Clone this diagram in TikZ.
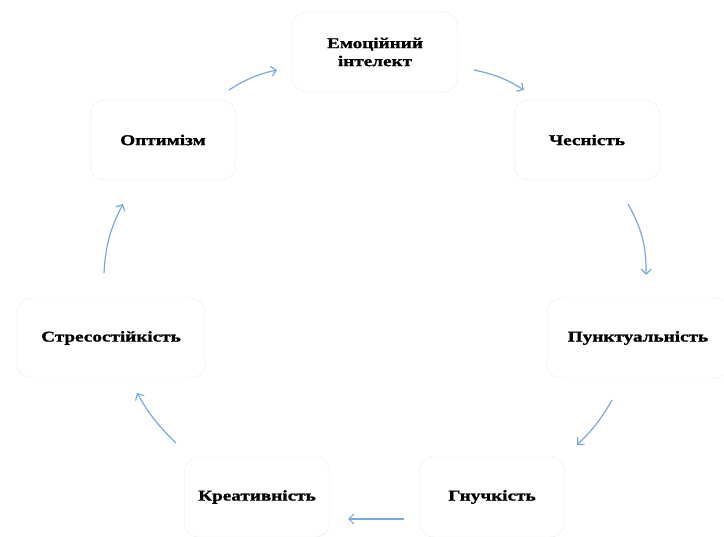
\documentclass[tikz,border=0pt]{standalone}
\usepackage{fontspec}
\setmainfont{Liberation Serif}
\newfontfamily\qualfont[FakeStretch=1.28, FakeBold=1.2]{Liberation Serif}
\usetikzlibrary{arrows.meta}

\definecolor{linkblue}{RGB}{122,168,218}
\definecolor{boxline}{RGB}{232,232,232}

\tikzset{
  quality/.style={rectangle, rounded corners=14pt, draw=boxline, fill=white,
    minimum width=145pt, minimum height=80pt, inner xsep=12pt, align=center,
    font=\qualfont\fontsize{15}{18}\selectfont\bfseries},
  link/.style={draw=linkblue, line width=1.2pt,
    -{Straight Barb[length=5pt,width=10pt]}},
}

\begin{document}
\begin{tikzpicture}[x=1pt, y=-1pt]
  \useasboundingbox (0,0) rectangle (724,537);

  % the seven qualities, clockwise from the top
  \node [quality, minimum width=165pt] (EI) at (375,52) {Емоційний\\інтелект};
  \node [quality] (CH) at (587,140) {Чесність};
  \node [quality, minimum width=182pt] (PU) at (638,338) {Пунктуальність};
  \node [quality] (HN) at (492,497) {Гнучкість};
  \node [quality] (KR) at (257,497) {Креативність};
  \node [quality, minimum width=188pt] (ST) at (111,338) {Стресостійкість};
  \node [quality] (OP) at (163,140) {Оптимізм};

  % arrow ends
  \coordinate (EIout) at (474,70);
  \coordinate (CHin)  at (524,90);
  \coordinate (CHout) at (628,204);
  \coordinate (PUin)  at (646,275);
  \coordinate (PUout) at (612,400);
  \coordinate (HNin)  at (577,445);
  \coordinate (HNout) at (404,519);
  \coordinate (KRin)  at (348,519);
  \coordinate (KRout) at (176,443);
  \coordinate (STin)  at (137,393);
  \coordinate (STout) at (104,273);
  \coordinate (OPin)  at (123,204);
  \coordinate (OPout) at (229,90);
  \coordinate (EIin)  at (277,70);

  \draw [link] (EIout) to [bend left=10] (CHin);
  \draw [link] (CHout) to [bend left=15] (PUin);
  \draw [link] (PUout) to [bend left=8] (HNin);
  \draw [link] (HNout) -- (KRin);
  \draw [link] (KRout) to [bend left=8] (STin);
  \draw [link] (STout) to [bend left=12] (OPin);
  \draw [link] (OPout) to [bend left=10] (EIin);
\end{tikzpicture}
\end{document}
